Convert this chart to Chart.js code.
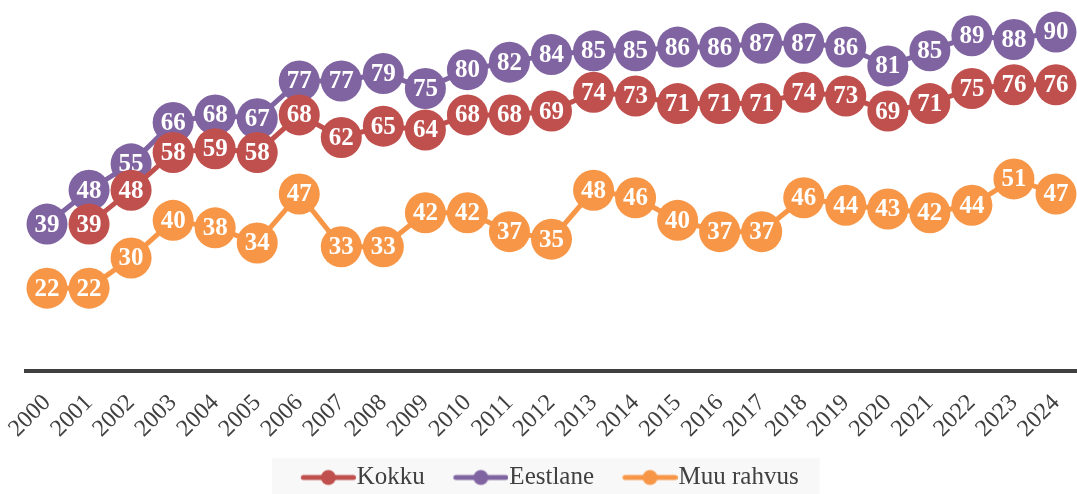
<!DOCTYPE html>
<html>
<head>
<meta charset="utf-8">
<script src="https://cdn.jsdelivr.net/npm/chart.js@4.4.1/dist/chart.umd.min.js"></script>
<style>
html,body{margin:0;padding:0;background:#fff;overflow:hidden}
#wrap{position:relative;width:1077px;height:494px}
</style>
</head>
<body>
<div id="wrap"><canvas id="c" width="1077" height="494"></canvas></div>
<script>
const years = ['2000','2001','2002','2003','2004','2005','2006','2007','2008','2009','2010','2011','2012','2013','2014','2015','2016','2017','2018','2019','2020','2021','2022','2023','2024'];
const kokku    = [null,39,48,58,59,58,68,62,65,64,68,68,69,74,73,71,71,71,74,73,69,71,75,76,76];
const eestlane = [39,48,55,66,68,67,77,77,79,75,80,82,84,85,85,86,86,87,87,86,81,85,89,88,90];
const muu      = [22,22,30,40,38,34,47,33,33,42,42,37,35,48,46,40,37,37,46,44,43,42,44,51,47];
const seriesNames  = ['Kokku','Eestlane','Muu rahvus'];
const seriesColors = ['#C0504D','#8064A2','#F79646'];
const seriesData   = [kokku, eestlane, muu];

const SERIF = '"Liberation Serif","Times New Roman",serif';
const BOXW = 68;

function makeIcon(color){
  const W = BOXW + 23, H = 18;
  const cv = document.createElement('canvas');
  cv.width = W; cv.height = H;
  const g = cv.getContext('2d');
  g.strokeStyle = color; g.lineWidth = 5; g.lineCap = 'round';
  g.beginPath(); g.moveTo(W - 55 + 2.5, H/2); g.lineTo(W - 2.5, H/2); g.stroke();
  g.fillStyle = color;
  g.beginPath(); g.arc(W - 27.5, H/2, 7.5, 0, Math.PI*2); g.fill();
  return cv;
}
const icons = seriesColors.map(makeIcon);

const labelPlugin = {
  id: 'ptLabels',
  afterDatasetDraw(chart, args) {
    const ctx = chart.ctx;
    const ds = chart.data.datasets[args.index];
    ctx.save();
    ctx.font = 'bold 25px ' + SERIF;
    ctx.fillStyle = '#ffffff';
    ctx.textAlign = 'center';
    ctx.textBaseline = 'middle';
    args.meta.data.forEach((pt, i) => {
      const v = ds.data[i];
      if (v === null || v === undefined) return;
      ctx.fillText(String(v), pt.x, pt.y + 1);
    });
    ctx.restore();
  }
};

const legendBg = {
  id: 'legendBg',
  afterLayout(chart) {
    const lg = chart.legend;
    if (lg) { lg.top += 6; lg.bottom += 6; lg.left -= 14; lg.right -= 14; }
  },
  beforeDraw(chart) {
    const lg = chart.legend;
    if (!lg || !lg.legendHitBoxes || !lg.legendHitBoxes.length) return;
    const hb = lg.legendHitBoxes;
    const first = hb[0], last = hb[hb.length - 1];
    const l = first.left - 4.5;
    const r = last.left + last.width + 21;
    const ctx = chart.ctx;
    ctx.save();
    ctx.fillStyle = '#f8f8f8';
    ctx.fillRect(l, 458, r - l, 36);
    ctx.restore();
  }
};

new Chart(document.getElementById('c'), {
  type: 'line',
  data: {
    labels: years,
    datasets: seriesNames.map((name, i) => ({
      label: name,
      data: seriesData[i],
      borderColor: seriesColors[i],
      backgroundColor: seriesColors[i],
      borderWidth: 5,
      pointRadius: 20.5,
      pointHoverRadius: 20.5,
      pointBorderWidth: 0,
      pointBackgroundColor: seriesColors[i],
      tension: 0,
      clip: false,
      spanGaps: false
    }))
  },
  options: {
    responsive: false,
    animation: false,
    devicePixelRatio: 1,
    layout: { autoPadding: false, padding: { left: 26, right: 0, top: 0, bottom: 0 } },
    events: [],
    scales: {
      x: {
        type: 'category',
        offset: true,
        grid: { display: true, color: 'transparent', drawTicks: false, drawOnChartArea: false },
        border: { display: true, color: '#404040', width: 4 },
        ticks: {
          autoSkip: false, maxRotation: 45, minRotation: 45,
          padding: 18,
          color: '#404040',
          font: { family: SERIF, size: 24 }
        },
        afterFit(scale) { scale.height = 84; scale.paddingLeft = 0; scale.paddingRight = 0; scale.paddingTop = 0; scale.paddingBottom = 0; }
      },
      y: {
        display: false,
        min: 0,
        max: 98.5,
        ticks: { display: false },
        afterFit(scale) { scale.paddingLeft = 0; scale.paddingRight = 0; scale.paddingTop = 0; scale.paddingBottom = 0; }
      }
    },
    plugins: {
      tooltip: { enabled: false },
      legend: {
        display: true,
        position: 'bottom',
        labels: {
          usePointStyle: true,
          pointStyleWidth: BOXW,
          padding: 4,
          color: '#404040',
          font: { family: SERIF, size: 25 },
          generateLabels(chart) {
            return chart.data.datasets.map((ds, i) => ({
              text: ds.label,
              pointStyle: icons[i],
              fillStyle: seriesColors[i],
              strokeStyle: seriesColors[i],
              lineWidth: 0,
              hidden: false,
              datasetIndex: i,
              fontColor: '#404040'
            }));
          }
        }
      }
    }
  },
  plugins: [labelPlugin, legendBg]
});
</script>
</body>
</html>
